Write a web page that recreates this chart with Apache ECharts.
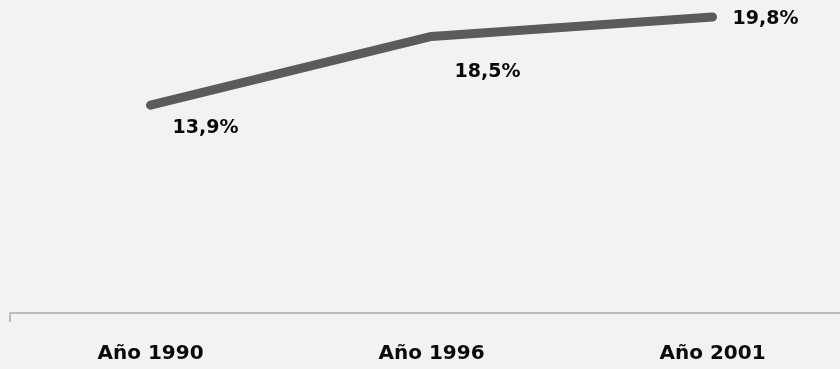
<!DOCTYPE html>
<html>
<head>
<meta charset="utf-8">
<script src="https://cdn.jsdelivr.net/npm/echarts@6/dist/echarts.min.js"></script>
<style>
html,body{margin:0;padding:0;background:#f2f2f2;overflow:hidden;width:840px;height:369px;}
#c{width:853px;height:369px;}
</style>
</head>
<body>
<div id="c"></div>
<script>
const categories = ['Año 1990', 'Año 1996', 'Año 2001'];
const values = [13.9, 18.5, 19.8];
const valueLabels = ['13,9%', '18,5%', '19,8%'];

const labelOffsets = [[55, 23], [56, 36], [53, 2]];

const chart = echarts.init(document.getElementById('c'));
chart.setOption({
  backgroundColor: '#f2f2f2',
  animation: false,
  grid: { left: 10, right: 0, top: 14, bottom: 56 },
  xAxis: {
    type: 'category',
    data: categories,
    boundaryGap: true,
    axisLine: { show: true, lineStyle: { color: '#bcbcbc', width: 2 } },
    axisTick: { show: true, length: 9, interval: function (i) { return i === 0; }, lineStyle: { color: '#bcbcbc', width: 2 } },
    axisLabel: { margin: 31, color: '#0a0a0a', fontFamily: 'DejaVu Sans', fontWeight: 'bold', fontSize: 20 }
  },
  yAxis: {
    type: 'value', min: 0, max: 20, show: false,
    splitLine: { show: false }
  },
  series: [{
    type: 'line',
    data: values.map((v, i) => ({
      value: v,
      label: { show: true, position: 'inside', offset: labelOffsets[i], formatter: valueLabels[i] }
    })),
    symbol: 'circle',
    symbolSize: 1,
    showSymbol: true,
    itemStyle: { color: '#5b5b5b' },
    lineStyle: { color: '#5b5b5b', width: 9, cap: 'round', join: 'round' },
    label: { color: '#0a0a0a', fontFamily: 'DejaVu Sans', fontWeight: 'bold', fontSize: 19 }
  }]
});
</script>
</body>
</html>
